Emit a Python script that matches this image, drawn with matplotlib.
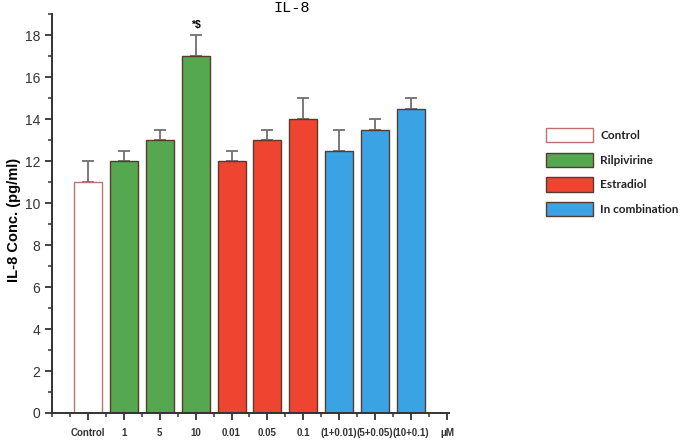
import numpy as np
import matplotlib
matplotlib.use("Agg")
import matplotlib.pyplot as plt
from matplotlib.patches import Patch
from matplotlib.ticker import MultipleLocator

plt.rcParams['font.family'] = ['Liberation Sans', 'DejaVu Sans']

# data
labels = ['Control', '1', '5', '10', '0.01', '0.05', '0.1',
          '(1+0.01)', '(5+0.05)', '(10+0.1)']
values = [11, 12, 13, 17, 12, 13, 14, 12.5, 13.5, 14.5]
errors = [1, 0.5, 0.5, 1, 0.5, 0.5, 1, 1, 0.5, 0.5]
groups = ['Control', 'Rilpivirine', 'Estradiol', 'In combination']
group_of = [0, 1, 1, 1, 2, 2, 2, 3, 3, 3]
group_colors = ['#ffffff', '#55a84f', '#ee4430', '#3aa3e3']
group_edges = ['#c07070', '#5a3a30', '#5a3a30', '#5a3a30']

fig = plt.figure(figsize=(6.85, 4.41), dpi=100)
ax = fig.add_axes([0.076, 0.0635, 0.579, 0.9045])

x = np.arange(len(labels))
ax.bar(x, values, width=0.78,
       color=[group_colors[g] for g in group_of],
       edgecolor=[group_edges[g] for g in group_of], linewidth=1.0, zorder=2)
ax.errorbar(x, values, yerr=[np.zeros(len(errors)), errors], fmt='none',
            ecolor='#707070', elinewidth=1.3, capsize=4, capthick=1.3, zorder=1)

ax.text(3, 17 + 1 + 0.25, '*$', ha='center', va='bottom', fontsize=7.5,
        fontweight='bold')

ax.set_xlim(-1, 10.05)
ax.set_ylim(0, 19)
ax.set_xticks(list(x) + [10])
ax.set_xticklabels(labels + ['\u03bcM'], fontsize=7, fontweight='bold',
                   color='#333333')
ax.xaxis.set_minor_locator(MultipleLocator(0.5))
ax.yaxis.set_major_locator(MultipleLocator(2))
ax.yaxis.set_minor_locator(MultipleLocator(1))
ax.tick_params(axis='both', which='major', direction='out', length=5, width=1.3,
               color='#333333')
ax.tick_params(axis='both', which='minor', direction='out', length=3, width=1.1,
               color='#333333')
ax.tick_params(axis='x', pad=6)
ax.tick_params(axis='y', labelsize=10, labelcolor='#333333')
ax.get_yticklabels()[0].set_color('#e07020')
for s in ['top', 'right']:
    ax.spines[s].set_visible(False)
for s in ['left', 'bottom']:
    ax.spines[s].set_linewidth(1.4)
    ax.spines[s].set_color('#333333')

ax.set_ylabel('IL-8 Conc. (pg/ml)', fontsize=10.5, fontweight='bold')
ax.yaxis.set_label_coords(-0.078, 0.485)

fig.text(0.426, 0.982, 'IL-8', fontsize=11, family='Liberation Mono',
         ha='center', va='center')

handles = [Patch(facecolor=group_colors[i], edgecolor=group_edges[i], linewidth=1.0)
           for i in range(len(groups))]
leg = fig.legend(handles, groups, loc='upper left', bbox_to_anchor=(0.79, 0.72),
                 frameon=False, prop={'family': 'Lato', 'size': 8.5, 'weight': 'bold'},
                 handlelength=4.0, handleheight=1.45,
                 labelspacing=0.9, handletextpad=0.6, borderaxespad=0)
for t in leg.get_texts():
    t.set_color('#222222')

fig.savefig('out.png', dpi=100)
